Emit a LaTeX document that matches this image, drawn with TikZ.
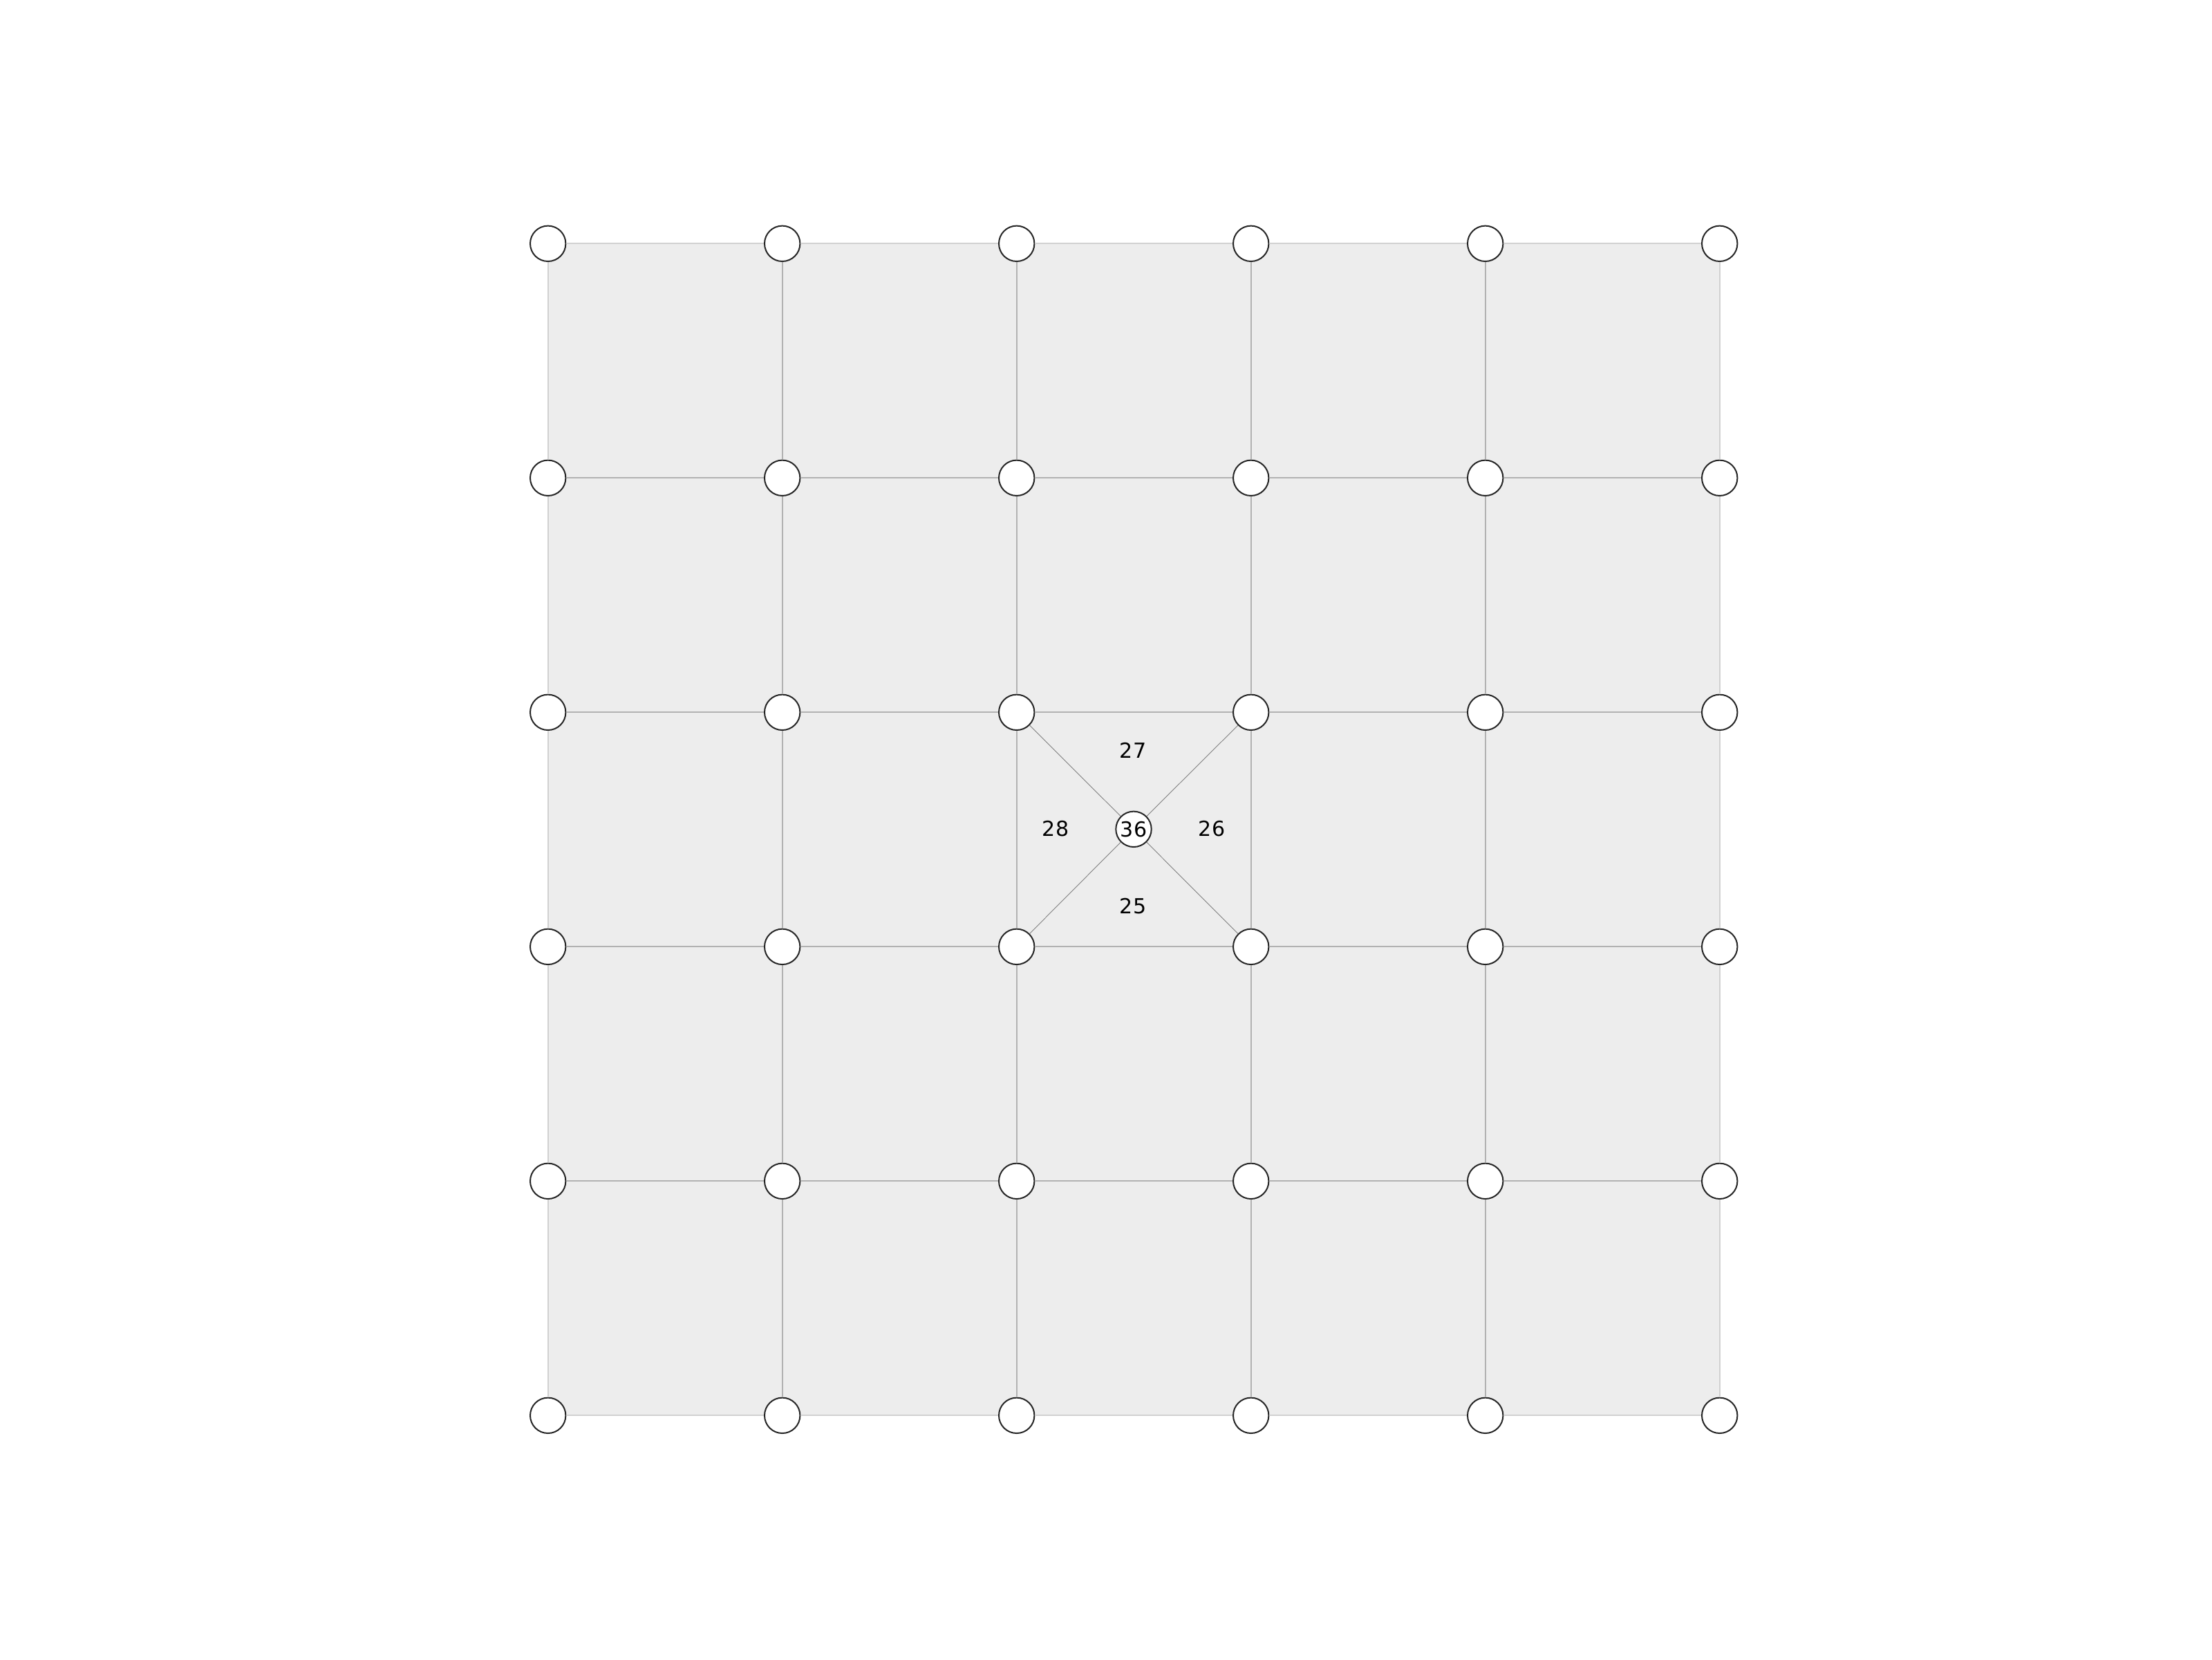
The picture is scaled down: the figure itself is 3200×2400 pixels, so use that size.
\documentclass[tikz,border=0pt]{standalone}
\usepackage{fontspec}
\setmainfont{DejaVu Sans}
\begin{document}
\begin{tikzpicture}[x=0.25pt,y=-0.25pt,
  vtx/.style={circle,draw=black!85,fill=white,line width=0.5pt,minimum size=12.85pt,inner sep=0pt,font=\fontsize{7.5}{9}\selectfont},
  gridline/.style={draw=black!30,line width=0.45pt},
  borderline/.style={draw=black!18,line width=0.5pt},
  diag/.style={draw=black!50,line width=0.22pt},
  lbl/.style={font=\fontsize{7.5}{9}\selectfont,inner sep=0pt}]
\useasboundingbox (0,0) rectangle (3200,2400);
\fill[black!7] (792.7,352.3) rectangle (2487.7,2047.3);
\foreach \i in {0,...,5}{
  \foreach \j in {0,...,5}{
    \node[vtx] (n-\i-\j) at ({792.7+339*\i},{352.3+339*\j}) {};
  }
}
\node[vtx] (c) at (1640,1199.3) {36};
% horizontal lines
\foreach \j in {0,5}{
  \foreach \i [evaluate=\i as \k using int(\i+1)] in {0,...,4}{
    \draw[borderline] (n-\i-\j) -- (n-\k-\j);
    \draw[borderline] (n-\j-\i) -- (n-\j-\k);
  }
}
\foreach \j in {1,...,4}{
  \foreach \i [evaluate=\i as \k using int(\i+1)] in {0,...,4}{
    \draw[gridline] (n-\i-\j) -- (n-\k-\j);
    \draw[gridline] (n-\j-\i) -- (n-\j-\k);
  }
}
\draw[diag] (c) -- (n-2-2);
\draw[diag] (c) -- (n-3-2);
\draw[diag] (c) -- (n-2-3);
\draw[diag] (c) -- (n-3-3);
\node[lbl] (l27) at (1639,1085) {27};
\node[lbl] (l28) at (1527,1199) {28};
\node[lbl] (l26) at (1753,1199) {26};
\node[lbl] (l25) at (1639,1311) {25};
\end{tikzpicture}
\end{document}
